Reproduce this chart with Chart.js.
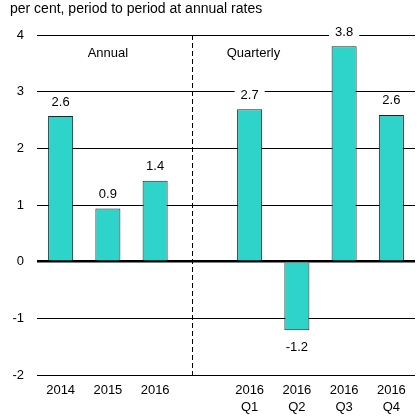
<!DOCTYPE html>
<html>
<head>
<meta charset="utf-8">
<script src="https://cdn.jsdelivr.net/npm/chart.js@4/dist/chart.umd.min.js"></script>
<style>
  html, body { margin: 0; padding: 0; background: #fff; }
  #wrap { width: 418px; height: 418px; }
</style>
</head>
<body>
<div id="wrap"><canvas id="growth"></canvas></div>
<script>
// data
const categories = ['2014', '2015', '2016', '', ['2016', 'Q1'], ['2016', 'Q2'], ['2016', 'Q3'], ['2016', 'Q4']];
const growth = [2.57, 0.94, 1.43, null, 2.69, -1.21, 3.8, 2.59];
const yTicks = [-2, -1, 0, 1, 2, 3, 4];
const titleText = 'per cent, period to period at annual rates';
const panelLabels = ['Annual', 'Quarterly'];

const FONT = '"Liberation Sans", Arial, sans-serif';

const extras = {
    id: 'extras',
    beforeDatasetsDraw(chart) {
        const ctx = chart.ctx;
        const x = chart.scales.x, y = chart.scales.y;
        // dashed divider between annual and quarterly
        const dx = Math.round(x.getPixelForValue(2.78)) + 0.5;
        ctx.save();
        ctx.strokeStyle = '#000';
        ctx.lineWidth = 1;
        ctx.setLineDash([5, 3]);
        ctx.beginPath();
        ctx.moveTo(dx, y.getPixelForValue(4));
        ctx.lineTo(dx, y.getPixelForValue(-2));
        ctx.stroke();
        ctx.restore();
    },
    afterDatasetsDraw(chart) {
        const ctx = chart.ctx;
        const x = chart.scales.x, y = chart.scales.y;
        ctx.save();
        ctx.font = '14px ' + FONT;
        ctx.fillStyle = '#000';
        ctx.textBaseline = 'middle';
        ctx.textAlign = 'left';
        ctx.fillText(titleText, 10, 9);

        ctx.font = '13px ' + FONT;
        ctx.textAlign = 'center';
        ctx.fillText(panelLabels[0], x.getPixelForValue(1), y.getPixelForValue(3.67));
        ctx.fillText(panelLabels[1], x.getPixelForValue(4.08), y.getPixelForValue(3.67));

        // value labels with white boxes
        const meta = chart.getDatasetMeta(0);
        meta.data.forEach((bar, i) => {
            const v = growth[i];
            if (v === null) return;
            const txt = v.toFixed(1);
            const ty = v >= 0 ? bar.y - 14 : bar.y + 17;
            const w = ctx.measureText(txt).width + 12;
            ctx.fillStyle = '#fff';
            ctx.fillRect(bar.x - w / 2, ty - 8, w, 16);
            ctx.fillStyle = '#000';
            ctx.fillText(txt, bar.x, ty);
        });
        ctx.restore();
    }
};

new Chart(document.getElementById('growth'), {
    type: 'bar',
    data: {
        labels: categories,
        datasets: [{
            data: growth,
            backgroundColor: '#2ED3CA',
            borderColor: '#222222',
            borderWidth: 1,
            barPercentage: 0.53,
            categoryPercentage: 1
        }]
    },
    options: {
        responsive: true,
        maintainAspectRatio: false,
        animation: false,
        layout: { padding: { top: 35, right: 3, left: 0, bottom: 0 } },
        plugins: {
            legend: { display: false },
            tooltip: { enabled: false },
            title: { display: false }
        },
        scales: {
            x: {
                grid: { display: false, drawTicks: false },
                border: { display: false },
                ticks: {
                    color: '#000',
                    font: { family: FONT, size: 13, lineHeight: 1.3 },
                    padding: 7,
                    maxRotation: 0,
                    autoSkip: false
                },
                afterFit(s) { s.height = 43; }
            },
            y: {
                min: -2,
                max: 4,
                afterBuildTicks(s) { s.ticks = yTicks.map(v => ({ value: v })); },
                grid: {
                    drawTicks: false,
                    color: '#000',
                    lineWidth: c => (c.tick && c.tick.value === 0 ? 2.5 : 1)
                },
                border: { display: false },
                ticks: {
                    color: '#000',
                    font: { family: FONT, size: 13 },
                    padding: 13
                },
                afterFit(s) { s.width = 37; }
            }
        }
    },
    plugins: [extras]
});
</script>
</body>
</html>
